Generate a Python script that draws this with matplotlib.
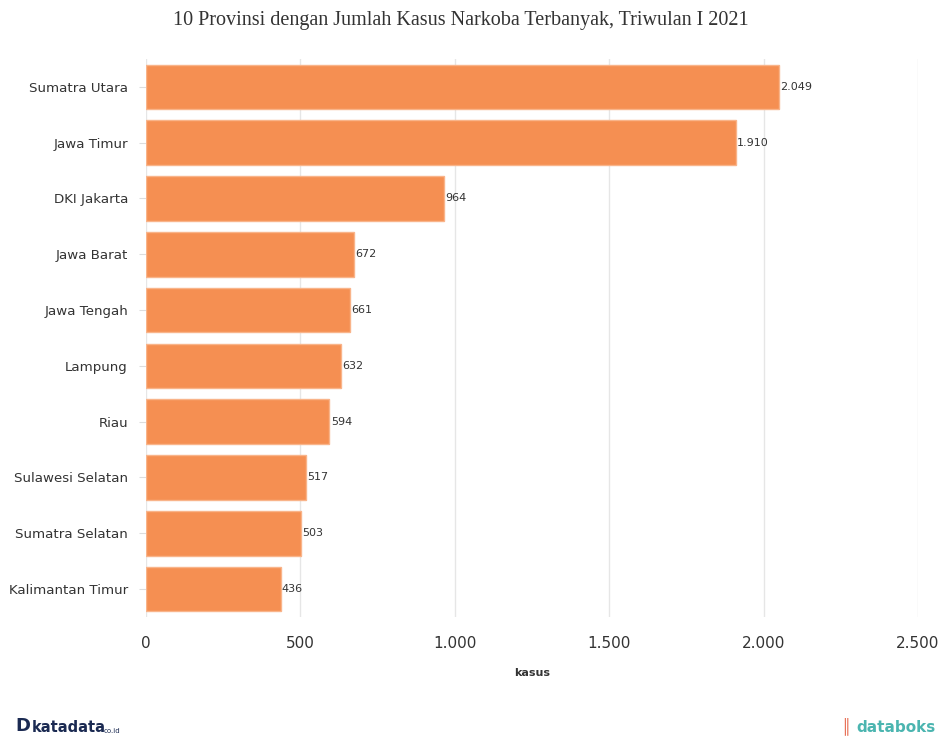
import matplotlib.pyplot as plt
from matplotlib.ticker import FuncFormatter

provinsi = ["Sumatra Utara", "Jawa Timur", "DKI Jakarta", "Jawa Barat", "Jawa Tengah",
            "Lampung", "Riau", "Sulawesi Selatan", "Sumatra Selatan", "Kalimantan Timur"]
kasus = [2049, 1910, 964, 672, 661, 632, 594, 517, 503, 436]
xticks = [0, 500, 1000, 1500, 2000, 2500]


def fmt(v, pos=None):
    return f"{int(v):,}".replace(",", ".")


fig = plt.figure(figsize=(9.38, 7.44), dpi=100)
ax = fig.add_axes([0.1557, 0.1707, 0.823, 0.75])

y = range(len(provinsi))
ax.barh(y, kasus, height=0.8, color="#F58F52", edgecolor="#F9B48A", linewidth=1.0, zorder=2)
for i, v in enumerate(kasus):
    ax.text(v + 4, i, fmt(v), va="center", ha="left", fontsize=8, color="#333333",
            family="DejaVu Sans")

ax.set_ylim(len(provinsi) - 0.5, -0.5)
ax.set_yticks(list(y))
ax.set_yticklabels(provinsi, fontsize=9.6, color="#333333")
ax.set_xlim(0, 2500)
ax.set_xticks(xticks)
ax.xaxis.set_major_formatter(FuncFormatter(fmt))
ax.tick_params(axis="x", length=0, labelsize=11, colors="#333333", pad=14)
ax.tick_params(axis="y", length=5, color="#dddddd", pad=8)
ax.grid(axis="x", color="#e6e6e6", linewidth=1, zorder=0)
for s in ax.spines.values():
    s.set_visible(False)
ax.set_xlabel("kasus", fontsize=8, fontweight="bold", color="#333333", labelpad=12)

fig.text(0.4915, 0.972, "10 Provinsi dengan Jumlah Kasus Narkoba Terbanyak, Triwulan I 2021",
         ha="center", va="center", fontsize=14.5, family="Liberation Serif", color="#333333")

fig.text(0.016, 0.012, "D", fontsize=13, fontweight="bold", color="#1B2A52", va="bottom")
fig.text(0.034, 0.012, "katadata", fontsize=10.5, fontweight="bold", color="#1B2A52", va="bottom")
fig.text(0.111, 0.013, "co.id", fontsize=5, color="#1B2A52", va="bottom")
fig.text(0.897, 0.012, "\u2551", fontsize=11, color="#E8735A", va="bottom", ha="left")
fig.text(0.998, 0.012, "databoks", fontsize=11, fontweight="bold", color="#4BB5B0",
         va="bottom", ha="right")

fig.savefig("out.png", dpi=100)
